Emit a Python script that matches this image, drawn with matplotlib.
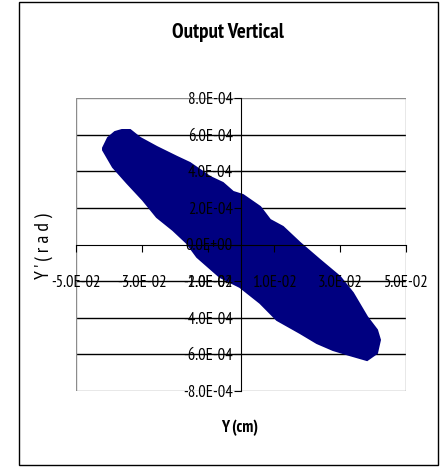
import matplotlib.pyplot as plt
from matplotlib.patches import Rectangle

plt.rcParams['font.family'] = ['PT Sans Narrow', 'DejaVu Sans']

# outline of the point cloud
cloud_x = [-0.0418, -0.0403, -0.0382, -0.0361, -0.0336, -0.0306, -0.0255, -0.0194,
           -0.0155, -0.0094, -0.0055, -0.0024, 0.0006, 0.0058, 0.0088, 0.0127,
           0.0179, 0.0239, 0.0300, 0.0339, 0.0382, 0.0412, 0.0421, 0.0412,
           0.0382, 0.0330, 0.0279, 0.0230, 0.0179, 0.0109, 0.0058, -0.0003,
           -0.0064, -0.0133, -0.0164, -0.0206, -0.0255, -0.0297, -0.0345, -0.0388,
           -0.0418]
cloud_y = [5.27e-4, 5.82e-4, 6.14e-4, 6.25e-4, 6.25e-4, 5.82e-4, 5.32e-4, 4.78e-4,
           4.45e-4, 3.69e-4, 3.36e-4, 2.87e-4, 2.70e-4, 2.05e-4, 1.34e-4, 0.96e-4,
           0.08e-4, -0.85e-4, -1.77e-4, -2.65e-4, -3.96e-4, -4.67e-4, -5.21e-4, -5.93e-4,
           -6.31e-4, -6.04e-4, -5.76e-4, -5.38e-4, -4.83e-4, -4.12e-4, -3.19e-4, -2.32e-4,
           -1.77e-4, -0.68e-4, 0.08e-4, 0.79e-4, 1.50e-4, 2.43e-4, 3.36e-4, 4.23e-4,
           5.16e-4]

xticks = [-0.05, -0.03, -0.01, 0.01, 0.03, 0.05]
xlabels = ['-5.0E-02', '-3.0E-02', '-1.0E-02', '1.0E-02', '3.0E-02', '5.0E-02']
yticks = [-8e-4, -6e-4, -4e-4, -2e-4, 0, 2e-4, 4e-4, 6e-4, 8e-4]
ylabels = ['-8.0E-04', '-6.0E-04', '-4.0E-04', '-2.0E-04', '0.0E+00',
           '2.0E-04', '4.0E-04', '6.0E-04', '8.0E-04']

fig = plt.figure(figsize=(4.43, 4.67), dpi=100)
fig.patches.append(Rectangle((19/443, 1-465/467), 419/443, 463/467, transform=fig.transFigure,
                             fill=False, edgecolor='black', lw=1.0))
ax = fig.add_axes([76/443, 1-391/467, 330/443, 293/467])

ax.set_xlim(-0.05, 0.05)
ax.set_ylim(-8e-4, 8e-4)

# gridlines under the points
for yv in yticks[1:-1]:
    if yv != 0:
        ax.axhline(yv, color='black', lw=1.0, zorder=1)

ax.fill(cloud_x, cloud_y, color='#000080', lw=1.5, edgecolor='#000080', zorder=2)

ax.spines['left'].set_position(('data', 0))
ax.spines['bottom'].set_position(('data', 0))
ax.spines['top'].set_visible(False)
ax.spines['right'].set_visible(False)
ax.spines['left'].set_zorder(3)
ax.spines['bottom'].set_zorder(3)
ax.add_patch(Rectangle((0, 0), 1, 1, transform=ax.transAxes, fill=False,
                       edgecolor='#8c8c8c', lw=1.0, zorder=1))
ax.set_axisbelow(False)

ax.set_xticks(xticks)
ax.set_xticklabels(xlabels)
ax.set_yticks(yticks)
ax.set_yticklabels(ylabels)
ax.tick_params(axis='x', direction='out', length=5, pad=17, labelsize=12)
ax.tick_params(axis='y', direction='out', length=5, pad=1, labelsize=12)

fig.text(228/443, 1-33/467, 'Output Vertical', ha='center', va='center',
         fontsize=15, fontweight='bold')
fig.text(240/443, 1-428/467, 'Y (cm)', ha='center', va='center',
         fontsize=12, fontweight='bold')
fig.text(44/443, 1-246/467, "Y ' ( r a d )", ha='center', va='center',
         fontsize=14, rotation=90)

fig.savefig('out.png', dpi=100)
